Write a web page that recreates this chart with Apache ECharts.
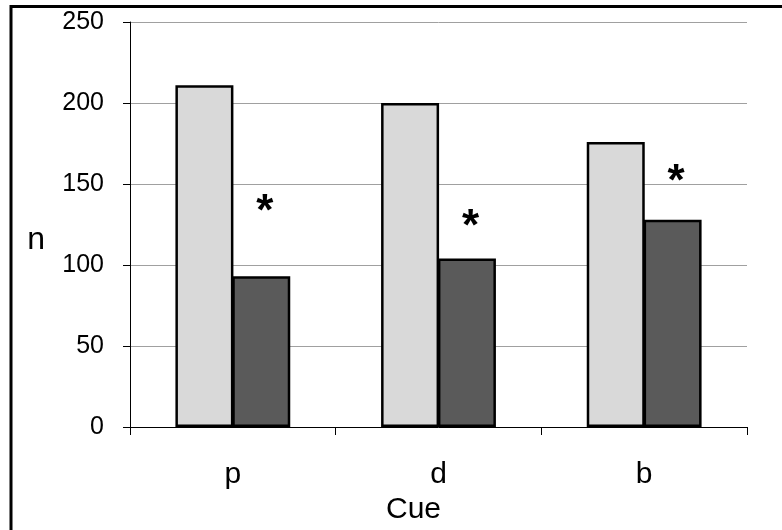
<!DOCTYPE html>
<html>
<head>
<meta charset="utf-8">
<script src="https://cdn.jsdelivr.net/npm/echarts@6/dist/echarts.min.js"></script>
<style>
html,body{margin:0;padding:0;background:#fff;}
#chart{width:782px;height:530px;}
</style>
</head>
<body>
<div id="chart"></div>
<script>
var categories = ['p', 'd', 'b'];
var lightValues = [211, 200, 176];
var darkValues = [93, 104, 128];
var asteriskLevels = [138, 128.5, 156.5];
var yTicks = [0, 50, 100, 150, 200, 250];

var FONT = '"Liberation Sans", Arial, sans-serif';
var chart = echarts.init(document.getElementById('chart'));

var option = {
  animation: false,
  backgroundColor: '#ffffff',
  graphic: [{
    type: 'rect',
    shape: { x: 11, y: 6.5, width: 900, height: 700 },
    style: { fill: 'none', stroke: '#000', lineWidth: 3 },
    silent: true
  }],
  grid: { left: 130, right: 35, top: 22, bottom: 103 },
  xAxis: {
    type: 'category',
    data: categories,
    name: 'Cue',
    nameLocation: 'middle',
    nameGap: 58,
    nameTextStyle: { fontFamily: FONT, fontSize: 30, color: '#000', padding: [0, 50, 0, 0] },
    axisLine: { lineStyle: { color: '#000', width: 1 } },
    axisTick: { show: true, length: 8, lineStyle: { color: '#000' } },
    axisLabel: { fontFamily: FONT, fontSize: 30, color: '#000', margin: 33 },
    splitLine: { show: false }
  },
  yAxis: {
    type: 'value',
    min: yTicks[0],
    max: yTicks[yTicks.length - 1],
    interval: yTicks[1] - yTicks[0],
    name: 'n',
    nameLocation: 'middle',
    nameRotate: 0,
    nameGap: 85,
    nameTextStyle: { fontFamily: FONT, fontSize: 32, color: '#000', verticalAlign: 'top', padding: [0, 0, 0, 0] },
    axisLine: { show: true, lineStyle: { color: '#000', width: 1 } },
    axisTick: { show: true, length: 7, lineStyle: { color: '#000' } },
    axisLabel: { fontFamily: FONT, fontSize: 25, color: '#000', margin: 26 },
    splitLine: { show: true, lineStyle: { color: '#a0a0a0', width: 1 } }
  },
  series: [
    {
      type: 'bar',
      data: lightValues,
      barWidth: 58,
      barGap: '-2%',
      itemStyle: { color: '#d9d9d9', borderColor: '#000', borderWidth: 2.5 }
    },
    {
      type: 'bar',
      data: darkValues,
      barWidth: 58,
      barGap: '-2%',
      itemStyle: { color: '#5a5a5a', borderColor: '#000', borderWidth: 2.5 }
    },
    {
      type: 'custom',
      data: asteriskLevels.map(function (v, i) { return [i, v]; }),
      renderItem: function (params, api) {
        var pt = api.coord([api.value(0), api.value(1)]);
        return {
          type: 'text',
          x: pt[0] + 29 + 3,
          y: pt[1] + 9,
          style: {
            text: '*',
            fontFamily: FONT,
            fontSize: 44,
            fontWeight: 'bold',
            fill: '#000',
            align: 'center',
            verticalAlign: 'middle'
          }
        };
      },
      z: 10
    }
  ]
};
chart.setOption(option);
</script>
</body>
</html>
